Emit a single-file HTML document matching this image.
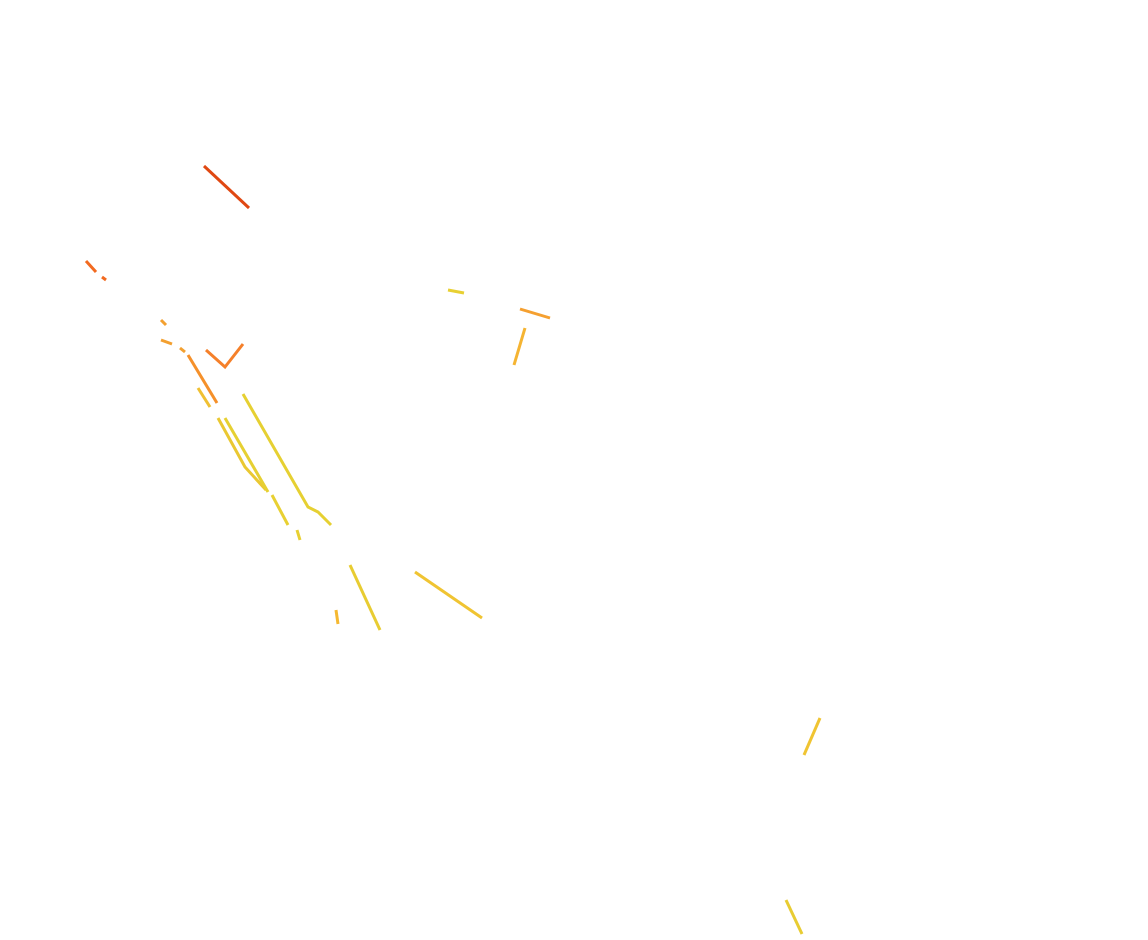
<!DOCTYPE html>
<html><head><style>body{margin:0;background:#fff}svg{display:block}</style></head>
<body><svg width="1148" height="940" xmlns="http://www.w3.org/2000/svg" fill="none" stroke-width="3" stroke-linecap="butt">
<path d="M204 166 L249 208" stroke="#e04812"/>
<path d="M86 261 L96 272 M102 277 L106 280" stroke="#f26a20"/>
<path d="M206 350 L225 367 L243 344" stroke="#f5802a"/>
<path d="M161 320 L166 325 M161 340 L172 344 M180 348 L185 352" stroke="#f3a030"/>
<path d="M188 355 L217 403" stroke="#f5902a"/>
<path d="M198 388 L210 407" stroke="#f0c032"/>
<path d="M218 418 L245 467 L266 490" stroke="#eac832"/>
<path d="M225 418 L268 492" stroke="#e6d032"/>
<path d="M243 394 L308 507 L318 512 L331 525" stroke="#e6d032"/>
<path d="M272 495 L288 525 M297 530 L300 540" stroke="#e8d032"/>
<path d="M350 565 L380 630" stroke="#e8cc32"/>
<path d="M336 610 L338 624" stroke="#f5b830"/>
<path d="M415 572 L482 618" stroke="#f0c432"/>
<path d="M448 290 L464 293" stroke="#e8d032"/>
<path d="M520 309 L550 318" stroke="#f5a030"/>
<path d="M525 328 L514 365" stroke="#f5b432"/>
<path d="M820 718 L804 755" stroke="#f0c432"/>
<path d="M786 900 L802 934" stroke="#e8cc32"/>
</svg></body></html>
